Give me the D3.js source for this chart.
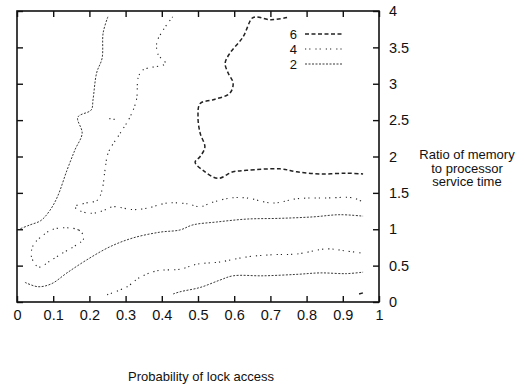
<!DOCTYPE html>
<meta charset="utf-8">
<style>
    body { margin: 0; background: #fff; }
    svg text { font-family: "Liberation Sans", Arial, sans-serif; fill: #111; }
    .frame { fill: none; stroke: #111; stroke-width: 1.6px; }
    .axis path { display: none; }
    .axis line { stroke: #111; stroke-width: 1.4px; }
    .axis text { font-size: 14.5px; }
    .contour { fill: none; stroke: #222; }
</style>
<svg width="524" height="386"></svg>
<script src="https://d3js.org/d3.v7.min.js"></script>
<script>

    // tick values / labels
    var xTicks = [0, 0.1, 0.2, 0.3, 0.4, 0.5, 0.6, 0.7, 0.8, 0.9, 1];
    var yTicks = [0, 0.5, 1, 1.5, 2, 2.5, 3, 3.5, 4];
    var legendLevels = ["6", "4", "2"];

    // contour lines, [probability, ratio]
    var curveA = [[0.251,3.92],[0.238,3.70],[0.235,3.35],[0.22,3.15],[0.21,2.78],[0.205,2.64],[0.168,2.54],
                  [0.18,2.32],[0.16,2.09],[0.138,1.81],[0.112,1.45],[0.091,1.26],[0.066,1.12],[0.036,1.06],[0.005,1.0]];
    var curveB = [[0.43,3.92],[0.404,3.74],[0.386,3.56],[0.39,3.40],[0.41,3.28],[0.348,3.19],[0.335,3.09],
                  [0.33,2.78],[0.312,2.54],[0.285,2.32],[0.252,2.05],[0.243,1.81],[0.235,1.54],[0.222,1.40],
                  [0.19,1.36],[0.16,1.31],[0.175,1.25],[0.21,1.22],[0.24,1.26],[0.265,1.31],[0.32,1.27],
                  [0.36,1.29],[0.414,1.36],[0.47,1.35],[0.505,1.31],[0.54,1.37],[0.59,1.43],[0.635,1.43],
                  [0.707,1.36],[0.773,1.42],[0.856,1.43],[0.93,1.43],[0.956,1.37]];
    var curveC = [[0.746,3.91],[0.70,3.88],[0.66,3.92],[0.649,3.90],[0.624,3.64],[0.588,3.42],[0.575,3.28],
                  [0.583,3.15],[0.597,3.01],[0.588,2.87],[0.542,2.78],[0.506,2.73],[0.50,2.54],[0.506,2.32],
                  [0.519,2.13],[0.506,2.0],[0.492,1.92],[0.514,1.81],[0.555,1.70],[0.597,1.79],[0.635,1.81],
                  [0.727,1.83],[0.773,1.79],[0.837,1.76],[0.91,1.77],[0.956,1.76]];
    var curveD = [[0.183,0.92],[0.17,0.99],[0.138,1.02],[0.1,1.0],[0.075,0.93],[0.045,0.78],[0.04,0.62],
                  [0.06,0.48],[0.09,0.56],[0.125,0.67],[0.16,0.77],[0.183,0.86]];
    var curveE = [[0.022,0.27],[0.058,0.21],[0.095,0.25],[0.138,0.40],[0.193,0.58],[0.257,0.76],[0.32,0.88],
                  [0.395,0.96],[0.45,0.99],[0.486,1.06],[0.552,1.10],[0.635,1.14],[0.727,1.15],[0.818,1.17],
                  [0.892,1.20],[0.956,1.18]];
    var curveF = [[0.249,0.10],[0.304,0.21],[0.34,0.34],[0.387,0.43],[0.45,0.45],[0.497,0.52],[0.56,0.55],
                  [0.635,0.62],[0.707,0.65],[0.773,0.66],[0.856,0.73],[0.91,0.70],[0.956,0.67]];
    var curveG = [[0.431,0.11],[0.45,0.14],[0.506,0.20],[0.56,0.30],[0.597,0.36],[0.68,0.36],[0.773,0.38],
                  [0.837,0.40],[0.91,0.39],[0.956,0.41]];
    var curveH = [[0.945,0.11],[0.962,0.135]];
    var curveI = [[0.255,2.52],[0.27,2.51]];

    var contours = [
        {level: "2", pts: curveA}, {level: "4", pts: curveB}, {level: "6", pts: curveC},
        {level: "4", pts: curveD, closed: true}, {level: "2", pts: curveE}, {level: "4", pts: curveF},
        {level: "2", pts: curveG}, {level: "6", pts: curveH}, {level: "4", pts: curveI}
    ];

    var styles = {
        "6": {dash: "4,2.5", width: 1.5},
        "4": {dash: "1.2,3,1.2,5", width: 1.1},
        "2": {dash: "2,1.5", width: 0.9}
    };

    var svg = d3.select("svg"),
            plotLeft = 17, plotRight = 379, plotTop = 11, plotBottom = 302;

    var x = d3.scaleLinear().domain([0, 1]).range([plotLeft, plotRight]);
    var y = d3.scaleLinear().domain([0, 4]).range([plotBottom, plotTop]);

    var fmt = function(d) { return String(d); };

    svg.append("g").attr("class", "axis")
            .attr("transform", "translate(0," + plotBottom + ")")
            .call(d3.axisBottom(x).tickValues(xTicks).tickSize(-6).tickPadding(8).tickFormat(fmt));
    svg.append("g").attr("class", "axis")
            .attr("transform", "translate(0," + plotTop + ")")
            .call(d3.axisTop(x).tickValues(xTicks).tickSize(-6).tickFormat(""));
    svg.append("g").attr("class", "axis")
            .attr("transform", "translate(" + plotRight + ",0)")
            .call(d3.axisRight(y).tickValues(yTicks).tickSize(-6).tickPadding(10).tickFormat(fmt));
    svg.append("g").attr("class", "axis")
            .attr("transform", "translate(" + plotLeft + ",0)")
            .call(d3.axisLeft(y).tickValues(yTicks).tickSize(-6).tickFormat(""));

    svg.selectAll(".axis").attr("font-family", null);

    svg.append("rect").attr("class", "frame")
            .attr("x", plotLeft).attr("y", plotTop)
            .attr("width", plotRight - plotLeft).attr("height", plotBottom - plotTop);

    var line = d3.line().x(function(d) { return x(d[0]); }).y(function(d) { return y(d[1]); })
            .curve(d3.curveCatmullRom);
    var loop = d3.line().x(function(d) { return x(d[0]); }).y(function(d) { return y(d[1]); })
            .curve(d3.curveCatmullRomClosed);

    svg.append("g").selectAll("path")
            .data(contours)
            .enter().append("path")
            .attr("class", "contour")
            .attr("d", function(d) { return d.closed ? loop(d.pts) : line(d.pts); })
            .attr("stroke-dasharray", function(d) { return styles[d.level].dash; })
            .attr("stroke-width", function(d) { return styles[d.level].width; });

    // legend
    var leg = svg.append("g").selectAll("g")
            .data(legendLevels)
            .enter().append("g")
            .attr("transform", function(d, i) { return "translate(0," + (34 + i * 15) + ")"; });
    leg.append("text")
            .attr("x", 297).attr("y", 5)
            .attr("text-anchor", "end")
            .style("font-size", "13px")
            .text(function(d) { return d; });
    leg.append("line")
            .attr("class", "contour")
            .attr("x1", 305).attr("x2", 342)
            .attr("stroke-dasharray", function(d) { return styles[d].dash; })
            .attr("stroke-width", function(d) { return styles[d].width; });

    // axis titles
    svg.append("text")
            .attr("x", 201).attr("y", 381)
            .attr("text-anchor", "middle")
            .style("font-size", "13px")
            .text("Probability of lock access");

    var ytitle = svg.append("text")
            .attr("text-anchor", "middle")
            .style("font-size", "13px");
    ["Ratio of memory", "to processor", "service time"].forEach(function(t, i) {
        ytitle.append("tspan").attr("x", 467).attr("y", 159 + i * 13.5).text(t);
    });

</script>
